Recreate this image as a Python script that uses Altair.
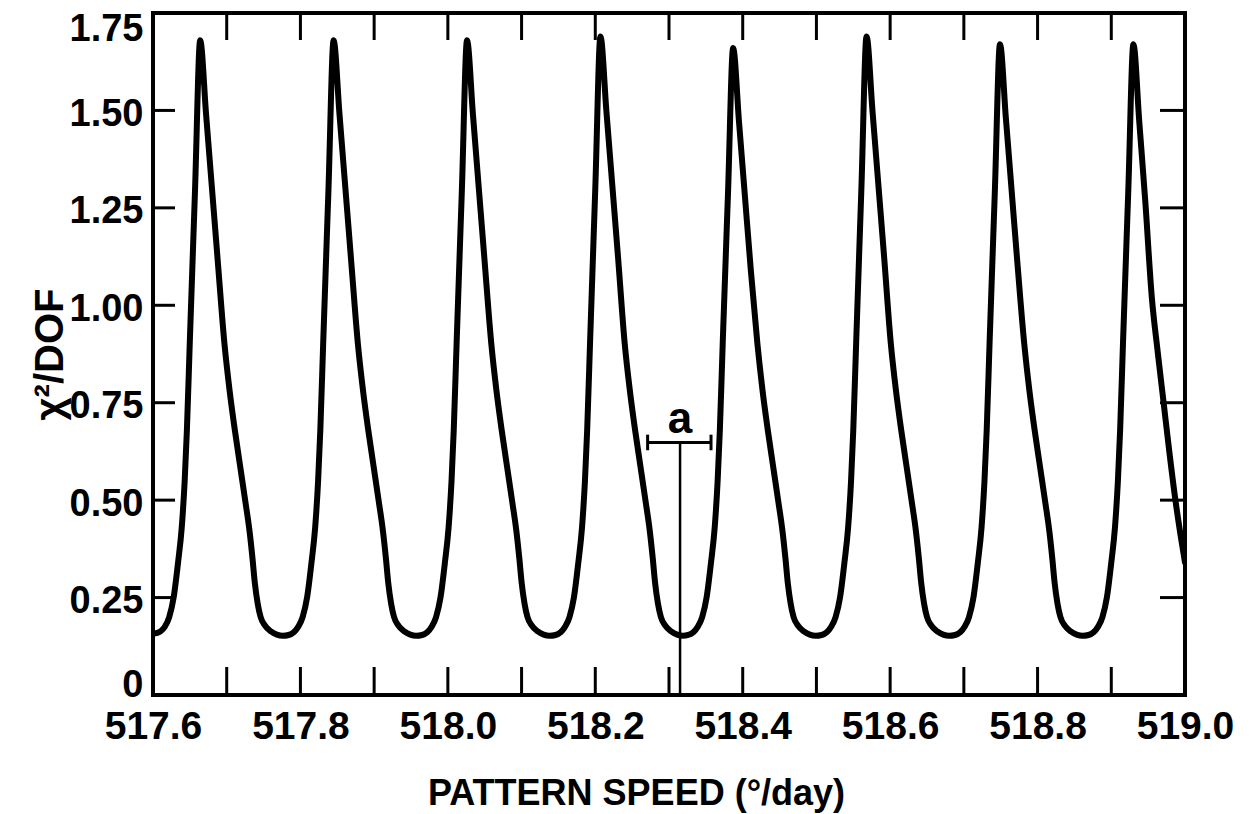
import altair as alt
import pandas as pd

# Chi-square per degree of freedom versus trial pattern speed (deg/day)
SPEED = [
    517.600, 517.610, 517.616, 517.622, 517.628, 517.634, 517.639, 517.643, 517.646, 517.650, 517.657, 517.664,
    517.672, 517.680, 517.688, 517.697, 517.704, 517.711, 517.718, 517.725, 517.731, 517.735, 517.738, 517.742,
    517.746, 517.752, 517.760, 517.768, 517.776,
    517.784, 517.791, 517.797, 517.803, 517.809, 517.815, 517.820, 517.824, 517.827, 517.831, 517.838, 517.845,
    517.853, 517.861, 517.869, 517.878, 517.885, 517.892, 517.899, 517.906, 517.912, 517.916, 517.919, 517.923,
    517.927, 517.933, 517.941, 517.949, 517.957,
    517.965, 517.972, 517.978, 517.984, 517.990, 517.996, 518.001, 518.005, 518.008, 518.012, 518.019, 518.026,
    518.034, 518.042, 518.050, 518.059, 518.066, 518.073, 518.080, 518.087, 518.093, 518.097, 518.100, 518.104,
    518.108, 518.114, 518.122, 518.130, 518.138,
    518.146, 518.153, 518.159, 518.165, 518.171, 518.177, 518.182, 518.186, 518.189, 518.193, 518.200, 518.207,
    518.215, 518.223, 518.231, 518.240, 518.247, 518.254, 518.261, 518.268, 518.274, 518.278, 518.281, 518.285,
    518.289, 518.295, 518.303, 518.311, 518.319,
    518.326, 518.333, 518.339, 518.345, 518.351, 518.357, 518.362, 518.366, 518.369, 518.373, 518.380, 518.387,
    518.395, 518.403, 518.411, 518.420, 518.427, 518.434, 518.441, 518.448, 518.454, 518.458, 518.461, 518.465,
    518.469, 518.475, 518.483, 518.491, 518.499,
    518.507, 518.514, 518.520, 518.526, 518.532, 518.538, 518.543, 518.547, 518.550, 518.554, 518.561, 518.568,
    518.576, 518.584, 518.592, 518.601, 518.608, 518.615, 518.622, 518.629, 518.635, 518.639, 518.642, 518.646,
    518.650, 518.656, 518.664, 518.672, 518.680,
    518.688, 518.695, 518.701, 518.707, 518.713, 518.719, 518.724, 518.728, 518.731, 518.735, 518.742, 518.749,
    518.757, 518.765, 518.773, 518.782, 518.789, 518.796, 518.803, 518.810, 518.816, 518.820, 518.823, 518.827,
    518.831, 518.837, 518.845, 518.853, 518.861,
    518.869, 518.876, 518.882, 518.888, 518.894, 518.900, 518.905, 518.909, 518.912, 518.916, 518.923, 518.930,
    518.938, 518.946, 518.955, 518.963, 518.971, 518.979, 518.987, 518.994, 519.000,
]
CHI2 = [
    0.157, 0.163, 0.175, 0.200, 0.250, 0.340, 0.430, 0.550, 0.680, 0.910, 1.295, 1.680,
    1.490, 1.300, 1.110, 0.900, 0.780, 0.680, 0.590, 0.500, 0.420, 0.350, 0.290, 0.235,
    0.200, 0.178, 0.163, 0.155, 0.152,
    0.154, 0.161, 0.175, 0.200, 0.250, 0.340, 0.430, 0.550, 0.680, 0.910, 1.295, 1.680,
    1.490, 1.300, 1.110, 0.900, 0.780, 0.680, 0.590, 0.500, 0.420, 0.350, 0.290, 0.235,
    0.200, 0.178, 0.163, 0.155, 0.152,
    0.154, 0.161, 0.175, 0.200, 0.250, 0.340, 0.430, 0.550, 0.680, 0.910, 1.295, 1.680,
    1.490, 1.300, 1.110, 0.900, 0.780, 0.680, 0.590, 0.500, 0.420, 0.350, 0.290, 0.235,
    0.200, 0.178, 0.163, 0.155, 0.152,
    0.154, 0.161, 0.175, 0.200, 0.250, 0.340, 0.430, 0.550, 0.680, 0.910, 1.300, 1.690,
    1.500, 1.310, 1.120, 0.900, 0.780, 0.680, 0.590, 0.500, 0.420, 0.350, 0.290, 0.235,
    0.200, 0.178, 0.163, 0.155, 0.152,
    0.154, 0.161, 0.175, 0.200, 0.250, 0.340, 0.430, 0.550, 0.680, 0.910, 1.285, 1.660,
    1.470, 1.280, 1.090, 0.900, 0.780, 0.680, 0.590, 0.500, 0.420, 0.350, 0.290, 0.235,
    0.200, 0.178, 0.163, 0.155, 0.152,
    0.154, 0.161, 0.175, 0.200, 0.250, 0.340, 0.430, 0.550, 0.680, 0.910, 1.300, 1.690,
    1.500, 1.310, 1.120, 0.900, 0.780, 0.680, 0.590, 0.500, 0.420, 0.350, 0.290, 0.235,
    0.200, 0.178, 0.163, 0.155, 0.152,
    0.154, 0.161, 0.175, 0.200, 0.250, 0.340, 0.430, 0.550, 0.680, 0.910, 1.290, 1.670,
    1.480, 1.290, 1.100, 0.900, 0.780, 0.680, 0.590, 0.500, 0.420, 0.350, 0.290, 0.235,
    0.200, 0.178, 0.163, 0.155, 0.152,
    0.154, 0.161, 0.175, 0.200, 0.250, 0.340, 0.430, 0.550, 0.680, 0.910, 1.290, 1.670,
    1.470, 1.270, 1.020, 0.880, 0.750, 0.620, 0.500, 0.410, 0.340,
]

X_LABELS = [517.6, 517.8, 518.0, 518.2, 518.4, 518.6, 518.8, 519.0]
X_TICKS = [517.7, 517.8, 517.9, 518.0, 518.1, 518.2, 518.3, 518.4, 518.5, 518.6, 518.7, 518.8, 518.9]
Y_LABELS = [0, 0.25, 0.5, 0.75, 1.0, 1.25, 1.5, 1.75]
Y_TICKS = [0.25, 0.5, 0.75, 1.0, 1.25, 1.5]

# Width marker "a" around the selected minimum
A_LEFT = 518.271
A_RIGHT = 518.357
A_CENTER = 518.315
A_LEVEL = 0.648
A_CAP = [0.628, 0.668]
A_TEXT_Y = 0.673

W, H = 1032, 682
FONT = "Liberation Sans, Arial, sans-serif"

xscale = alt.Scale(domain=[517.6, 519.0], nice=False, zero=False)
yscale = alt.Scale(domain=[0, 1.75], nice=False, zero=False)

curve_df = pd.DataFrame({"speed": SPEED, "chi2": CHI2})

x_axis = alt.Axis(
    values=X_LABELS, format=".1f", title="PATTERN SPEED (°/day)",
    domain=False, ticks=False, tickSize=0, grid=False, labelFlush=False,
    labelFont=FONT, labelFontSize=39, labelFontWeight="bold", labelColor="black",
    labelPadding=12, labelOverlap=False,
    titleFont=FONT, titleFontSize=36, titleFontWeight="bold", titleColor="black",
    titleX=483, titleY=109, titleBaseline="alphabetic", titleAlign="center",
)
y_axis = alt.Axis(
    values=Y_LABELS, labelExpr="datum.value == 0 ? '0' : format(datum.value, '.2f')",
    title="χ²/DOF",
    domain=False, ticks=False, tickSize=0, grid=False, labelFlush=False,
    labelFont=FONT, labelFontSize=38, labelFontWeight="bold", labelColor="black",
    labelPadding=10, labelOverlap=False, labelBaseline="middle",
    labelOffset={"condition": [{"test": "datum.value == 0", "value": -10},
                               {"test": "datum.value == 1.75", "value": 16}],
                 "value": 4},
    titleFont=FONT, titleFontSize=40, titleFontWeight="bold", titleColor="black",
    titleX=-91, titleY=341, titleAngle=270, titleBaseline="alphabetic", titleAlign="center",
)


def xq(field):
    return alt.X(field, type="quantitative", scale=xscale, axis=x_axis)


def yq(field):
    return alt.Y(field, type="quantitative", scale=yscale, axis=y_axis)


curve = alt.Chart(curve_df).mark_line(
    color="black", strokeWidth=6, strokeCap="round", strokeJoin="round",
    interpolate="monotone", clip=True,
).encode(x=xq("speed"), y=yq("chi2"))

xt_df = pd.DataFrame({"v": X_TICKS})
yt_df = pd.DataFrame({"v": Y_TICKS})

bottom_ticks = alt.Chart(xt_df).mark_rule(color="black", strokeWidth=3).encode(
    x=xq("v"), y=alt.value(H), y2=alt.value(H - 28))
top_ticks = alt.Chart(xt_df).mark_rule(color="black", strokeWidth=3).encode(
    x=xq("v"), y=alt.value(0), y2=alt.value(27))
left_ticks = alt.Chart(yt_df).mark_rule(color="black", strokeWidth=3).encode(
    y=yq("v"), x=alt.value(0), x2=alt.value(22))
right_ticks = alt.Chart(yt_df).mark_rule(color="black", strokeWidth=3).encode(
    y=yq("v"), x=alt.value(W), x2=alt.value(W - 25))

bar_df = pd.DataFrame({"x1": [A_LEFT], "x2": [A_RIGHT], "y": [A_LEVEL]})
a_bar = alt.Chart(bar_df).mark_rule(color="black", strokeWidth=3).encode(
    x=xq("x1"), x2="x2:Q", y=yq("y"))

caps_df = pd.DataFrame({"x": [A_LEFT, A_RIGHT], "y1": [A_CAP[0]] * 2, "y2": [A_CAP[1]] * 2})
a_caps = alt.Chart(caps_df).mark_rule(color="black", strokeWidth=3).encode(
    x=xq("x"), y=yq("y1"), y2="y2:Q")

stem_df = pd.DataFrame({"x": [A_CENTER], "y1": [0.0], "y2": [A_LEVEL]})
a_stem = alt.Chart(stem_df).mark_rule(color="black", strokeWidth=2.5).encode(
    x=xq("x"), y=yq("y1"), y2="y2:Q")

label_df = pd.DataFrame({"x": [A_CENTER], "y": [A_TEXT_Y], "t": ["a"]})
a_label = alt.Chart(label_df).mark_text(
    font=FONT, fontSize=44, fontWeight="bold", color="black",
    align="center", baseline="alphabetic",
).encode(x=xq("x"), y=yq("y"), text="t:N")

chart = alt.layer(
    curve, bottom_ticks, top_ticks, left_ticks, right_ticks, a_bar, a_caps, a_stem, a_label
).properties(
    width=W, height=H,
    autosize=alt.AutoSizeParams(type="none"),
    padding={"left": 153, "top": 13, "right": 66, "bottom": 119},
    background="white",
).configure_view(stroke="black", strokeWidth=4)

chart.save("out.html", embed_options={"renderer": "svg", "actions": False})
